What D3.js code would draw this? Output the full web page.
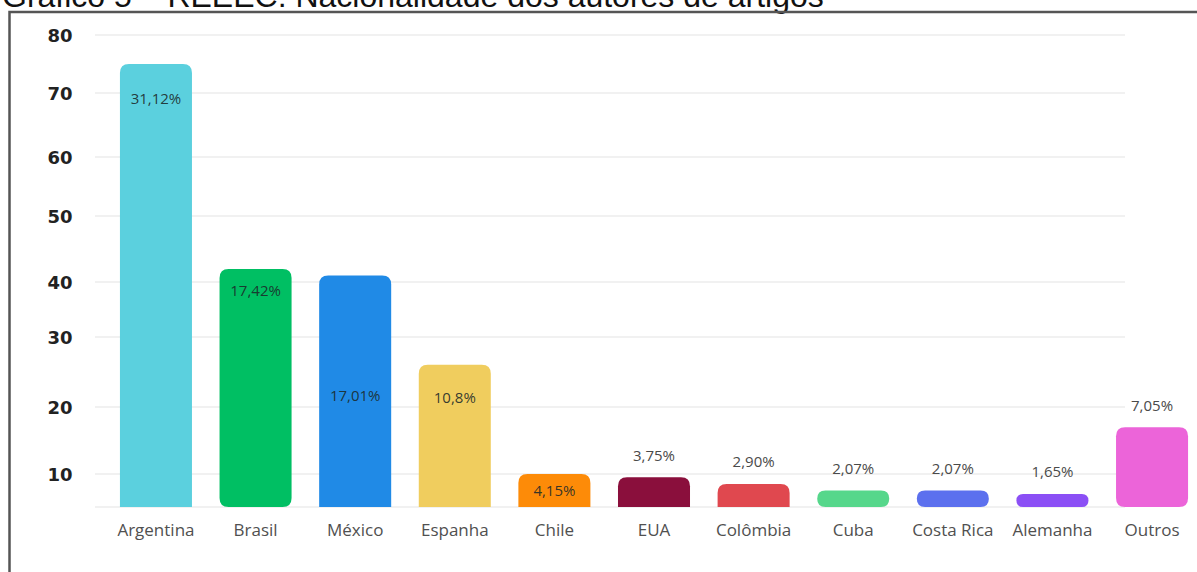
<!DOCTYPE html>
<html lang="pt">
<head>
<meta charset="utf-8">
<title>Gráfico 5 – REEEC: Nacionalidade dos autores de artigos</title>
<script src="https://cdn.jsdelivr.net/npm/d3@7"></script>
<style>
  html, body { margin: 0; padding: 0; background: #fff; }
  svg { display: block; }
</style>
</head>
<body>
<svg id="chart" width="1197" height="572"></svg>
<script>
// Nationality of article authors (share of 241 authors)
const countries = ["Argentina", "Brasil", "México", "Espanha", "Chile", "EUA",
                   "Colômbia", "Cuba", "Costa Rica", "Alemanha", "Outros"];
const shares = [31.12, 17.42, 17.01, 10.8, 4.15, 3.75, 2.90, 2.07, 2.07, 1.65, 7.05];
const shareLabels = ["31,12%", "17,42%", "17,01%", "10,8%", "4,15%", "3,75%",
                     "2,90%", "2,07%", "2,07%", "1,65%", "7,05%"];
const totalAuthors = 241;
const yTicks = [10, 20, 30, 40, 50, 60, 70, 80];
const barColors = ["#5bd0de", "#00bf63", "#208ae6", "#f0cd5e", "#fd8b08", "#8a0f3c",
                   "#e0484f", "#56d78b", "#5c70ee", "#8b4ff5", "#ec64d9"];

const svg = d3.select("#chart");
const W = 1197, H = 572;

svg.append("rect").attr("width", W).attr("height", H).attr("fill", "#fff");

// Title (sits partly above the frame)
svg.append("text")
  .attr("x", 2).attr("y", 7)
  .attr("font-family", "'Liberation Sans', Arial, sans-serif")
  .attr("font-size", 32)
  .attr("fill", "#111")
  .text("Gráfico 5 – REEEC: Nacionalidade dos autores de artigos");

// Frame
svg.append("path")
  .attr("d", `M9.5,${H + 2} V12 H${W + 2}`)
  .attr("fill", "none")
  .attr("stroke", "#555")
  .attr("stroke-width", 2.5);

// Scales: the value axis is a piecewise linear scale (author counts)
const y = d3.scaleLinear()
  .domain([0, 10, 20, 30, 40, 50, 60, 70, 80])
  .range([507, 474, 407, 337, 282, 216, 157, 93, 35]);

const x = d3.scaleBand()
  .domain(countries)
  .range([106, 1202])
  .paddingInner(0.277)
  .paddingOuter(0.14);

// Gridlines
svg.append("g")
  .selectAll("line")
  .data([0].concat(yTicks))
  .join("line")
  .attr("x1", 95).attr("x2", 1125)
  .attr("y1", d => y(d)).attr("y2", d => y(d))
  .attr("stroke", "#ececec")
  .attr("stroke-width", 1.5);

// Y axis labels
const yAxis = svg.append("g")
  .attr("transform", "translate(60,0)")
  .call(d3.axisLeft(y).tickValues(yTicks).tickSize(0).tickPadding(0));
yAxis.select(".domain").remove();
yAxis.selectAll("text")
  .attr("text-anchor", "middle")
  .attr("dy", "0.36em")
  .attr("font-family", "'DejaVu Sans', sans-serif")
  .attr("font-weight", "bold")
  .attr("font-size", 18)
  .attr("fill", "#222");

// Bar path with rounded top corners (optionally rounded bottom too)
function barPath(x0, y0, w, h, r, roundBottom) {
  const rt = Math.min(r, h / 2, w / 2);
  const rb = roundBottom ? rt : 0;
  return `M${x0},${y0 + rt}` +
    `Q${x0},${y0} ${x0 + rt},${y0}` +
    `H${x0 + w - rt}` +
    `Q${x0 + w},${y0} ${x0 + w},${y0 + rt}` +
    `V${y0 + h - rb}` +
    (rb ? `Q${x0 + w},${y0 + h} ${x0 + w - rb},${y0 + h}` : "") +
    `H${x0 + rb}` +
    (rb ? `Q${x0},${y0 + h} ${x0},${y0 + h - rb}` : "") +
    "Z";
}

const rows = countries.map((c, i) => ({
  country: c,
  share: shares[i],
  label: shareLabels[i],
  count: shares[i] / 100 * totalAuthors,
  color: barColors[i]
}));

const fullyRounded = new Set(["Brasil", "Outros", "Cuba", "Costa Rica", "Alemanha"]);

svg.append("g")
  .selectAll("path")
  .data(rows)
  .join("path")
  .attr("d", d => {
    const top = y(d.count);
    return barPath(x(d.country), top, x.bandwidth(), y(0) - top, 9, fullyRounded.has(d.country));
  })
  .attr("fill", d => d.color);

// Value labels: inside the taller bars, above the short ones
const insideDepth = { "Argentina": 0.077, "Brasil": 0.09, "México": 0.52, "Espanha": 0.23, "Chile": 0.5 };

svg.append("g")
  .selectAll("text")
  .data(rows)
  .join("text")
  .attr("x", d => x(d.country) + x.bandwidth() / 2)
  .attr("y", d => {
    const top = y(d.count);
    const h = y(0) - top;
    return d.country in insideDepth ? top + insideDepth[d.country] * h : top - 22;
  })
  .attr("dy", "0.36em")
  .attr("text-anchor", "middle")
  .attr("font-family", "'Open Sans', sans-serif")
  .attr("font-size", 15)
  .attr("fill", d => d.country in insideDepth ? "#1c2a2a" : "#4a4a4a")
  .attr("fill-opacity", d => d.country in insideDepth ? 0.9 : 1)
  .text(d => d.label);

// Category labels
const xAxis = svg.append("g")
  .attr("transform", `translate(0,${y(0)})`)
  .call(d3.axisBottom(x).tickSize(0).tickPadding(17));
xAxis.select(".domain").remove();
xAxis.selectAll("text")
  .attr("font-family", "'Open Sans', sans-serif")
  .attr("font-size", 17)
  .attr("fill", "#505050");
</script>
</body>
</html>
